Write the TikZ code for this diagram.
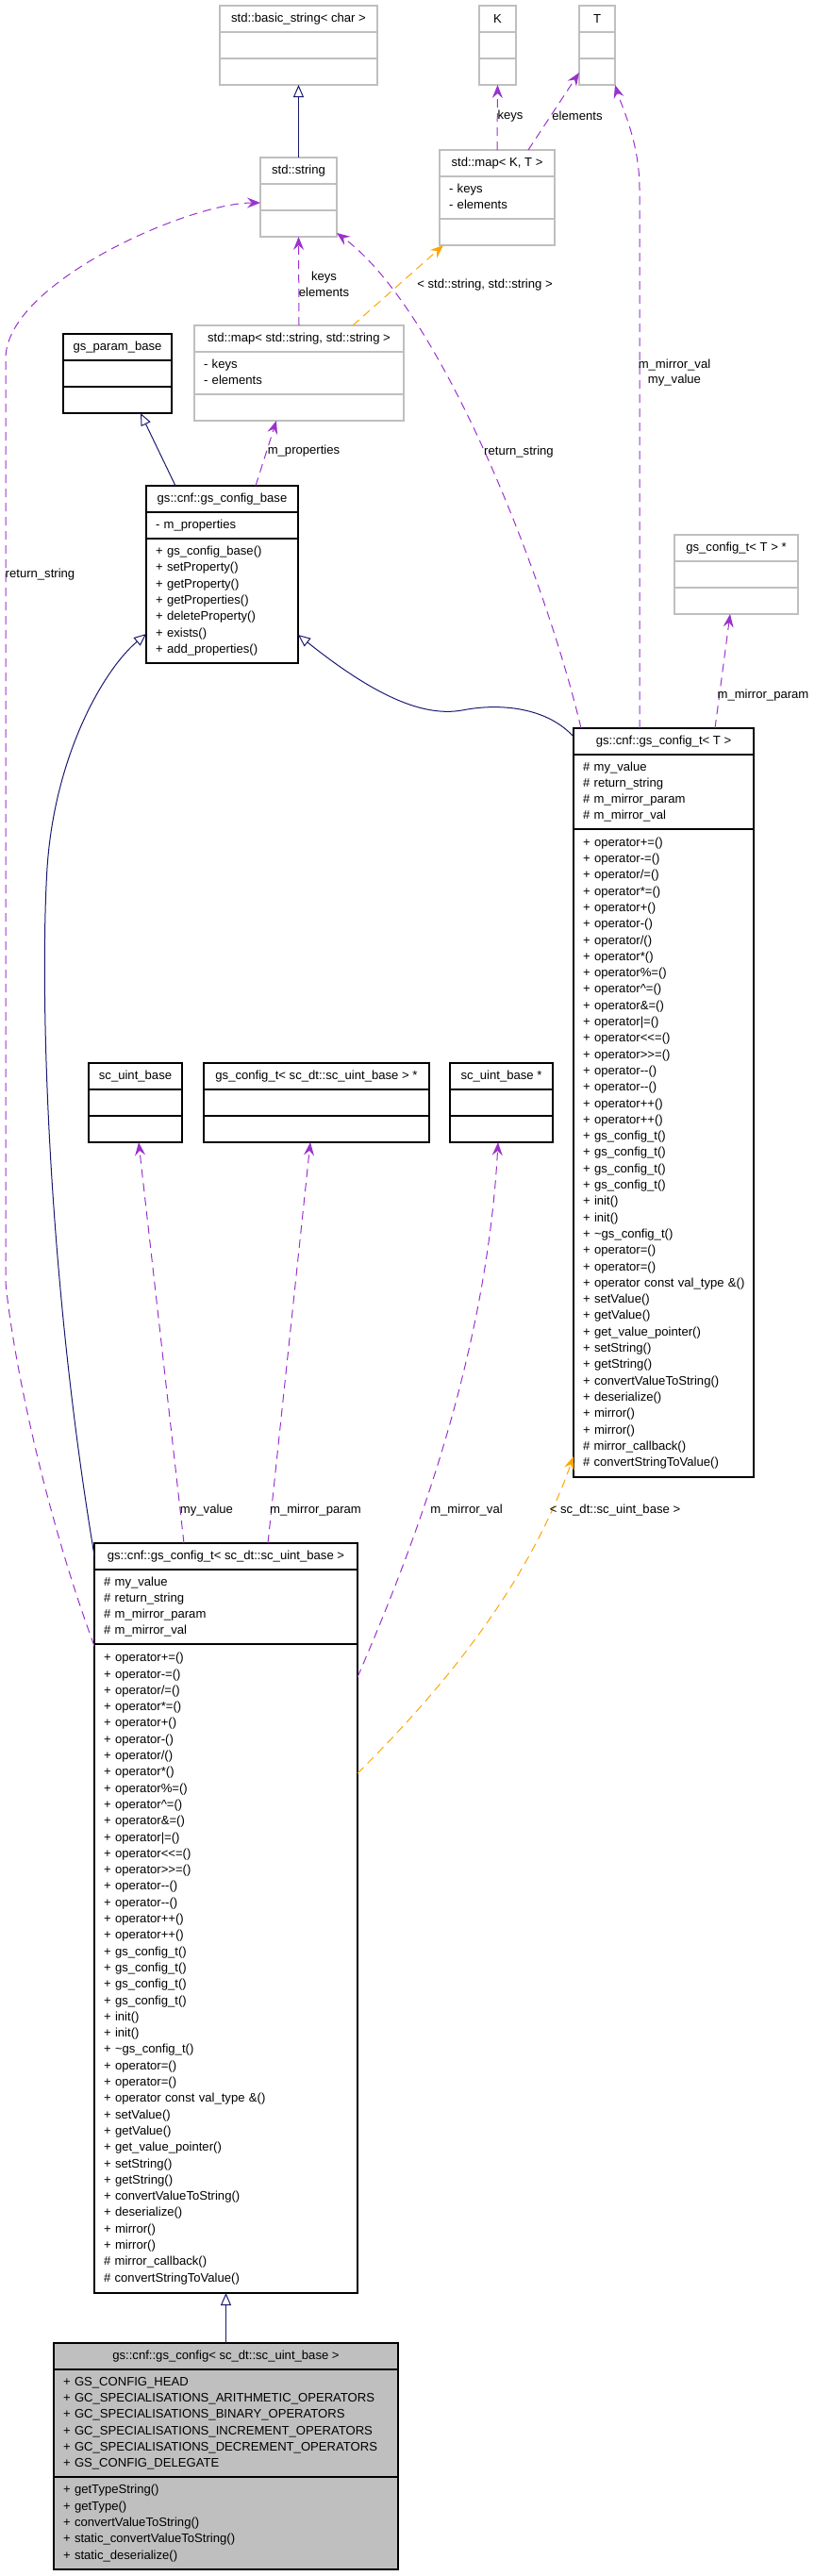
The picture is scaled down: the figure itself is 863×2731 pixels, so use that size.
\documentclass[tikz,border=0pt]{standalone}
\usepackage{fontspec}
\setmainfont{Liberation Sans}
\usetikzlibrary{positioning,fit,arrows.meta}

\definecolor{inhblue}{HTML}{191970}
\definecolor{usepurple}{HTML}{9A32CD}
\definecolor{tplorange}{HTML}{FFA500}
\definecolor{boxgrey}{HTML}{BFBFBF}

\newcommand{\members}[1]{\begin{tabular}{@{}l@{}}#1\end{tabular}}

\newcommand{\cfgattrs}{\# my\_value\\
\# return\_string\\
\# m\_mirror\_param\\
\# m\_mirror\_val}

\newcommand{\cfgops}{+ operator+=()\\
+ operator-=()\\
+ operator/=()\\
+ operator*=()\\
+ operator+()\\
+ operator-()\\
+ operator/()\\
+ operator*()\\
+ operator\%=()\\
+ operator\textasciicircum=()\\
+ operator\&=()\\
+ operator|=()\\
+ operator<{}<=()\\
+ operator>{}>=()\\
+ operator-{}-()\\
+ operator-{}-()\\
+ operator++()\\
+ operator++()\\
+ gs\_config\_t()\\
+ gs\_config\_t()\\
+ gs\_config\_t()\\
+ gs\_config\_t()\\
+ init()\\
+ init()\\
+ \textasciitilde gs\_config\_t()\\
+ operator=()\\
+ operator=()\\
+ operator const val\_type \&()\\
+ setValue()\\
+ getValue()\\
+ get\_value\_pointer()\\
+ setString()\\
+ getString()\\
+ convertValueToString()\\
+ deserialize()\\
+ mirror()\\
+ mirror()\\
\# mirror\_callback()\\
\# convertStringToValue()}

\tikzset{
  clstitle/.style={draw=black, line width=1.2pt, anchor=north west,
    inner xsep=4pt, inner ysep=0pt, outer sep=0pt, minimum height=28pt,
    font=\fontsize{13.1}{17.3}\selectfont},
  clssec/.style={draw=black, line width=1.2pt, align=left,
    inner xsep=10pt, inner ysep=0pt, outer sep=0pt, minimum height=28pt,
    font=\fontsize{13.1}{17.3}\selectfont},
  undoc/.style={draw=boxgrey},
  current/.style={fill=boxgrey},
  whole/.style={inner sep=0pt, outer sep=0pt},
  lbl/.style={inner sep=0pt, font=\fontsize{13.1}{16.5}\selectfont},
  inherit/.style={draw=inhblue, line width=1pt,
    -{Triangle[open, length=13pt, width=11pt]}},
  uses/.style={draw=usepurple, line width=1pt, dash pattern=on 9pt off 6pt,
    -{Stealth[length=14pt, width=11pt, inset=5pt]}},
  tplinst/.style={draw=tplorange, line width=1pt, dash pattern=on 9pt off 6pt,
    -{Stealth[length=14pt, width=11pt, inset=5pt]}}
}

\begin{document}
\begin{tikzpicture}[x=1pt, y=-1pt]

\useasboundingbox (0,0) rectangle (863,2731);

%std::basic_string
\node[clstitle, undoc, minimum width=167pt] (bstr1) at (233,6) {std::basic\_string< char >};
\node[clssec, undoc, minimum width=167pt, below=0pt of bstr1] (bstr2) {};
\node[clssec, undoc, minimum width=167pt, below=0pt of bstr2] (bstr3) {};
\node[fit=(bstr1)(bstr3), whole] (bstr) {};

%K
\node[clstitle, undoc, minimum width=39pt] (keyK1) at (508,6) {K};
\node[clssec, undoc, minimum width=39pt, below=0pt of keyK1] (keyK2) {};
\node[clssec, undoc, minimum width=39pt, below=0pt of keyK2] (keyK3) {};
\node[fit=(keyK1)(keyK3), whole] (keyK) {};

%T
\node[clstitle, undoc, minimum width=38pt] (valT1) at (614,6) {T};
\node[clssec, undoc, minimum width=38pt, below=0pt of valT1] (valT2) {};
\node[clssec, undoc, minimum width=38pt, below=0pt of valT2] (valT3) {};
\node[fit=(valT1)(valT3), whole] (valT) {};

%std::string
\node[clstitle, undoc, minimum width=81pt] (str1) at (276,167) {std::string};
\node[clssec, undoc, minimum width=81pt, below=0pt of str1] (str2) {};
\node[clssec, undoc, minimum width=81pt, below=0pt of str2] (str3) {};
\node[fit=(str1)(str3), whole] (str) {};

%std::map< K, T >
\node[clstitle, undoc, minimum width=122pt] (mapKT1) at (466,159) {std::map< K, T >};
\node[clssec, undoc, text width=102pt, minimum height=45pt, below=0pt of mapKT1] (mapKT2) {\members{- keys\\- elements}};
\node[clssec, undoc, minimum width=122pt, below=0pt of mapKT2] (mapKT3) {};
\node[fit=(mapKT1)(mapKT3), whole] (mapKT) {};

%std::map< std::string, std::string >
\node[clstitle, undoc, minimum width=222pt] (mapSS1) at (206,345) {std::map< std::string, std::string >};
\node[clssec, undoc, text width=202pt, minimum height=45pt, below=0pt of mapSS1] (mapSS2) {\members{- keys\\- elements}};
\node[clssec, undoc, minimum width=222pt, below=0pt of mapSS2] (mapSS3) {};
\node[fit=(mapSS1)(mapSS3), whole] (mapSS) {};

%gs_param_base
\node[clstitle, minimum width=115pt] (pbase1) at (67,354) {gs\_param\_base};
\node[clssec, minimum width=115pt, below=0pt of pbase1] (pbase2) {};
\node[clssec, minimum width=115pt, below=0pt of pbase2] (pbase3) {};
\node[fit=(pbase1)(pbase3), whole] (pbase) {};

%gs::cnf::gs_config_base
\node[clstitle, minimum width=161pt] (cbase1) at (155,515) {gs::cnf::gs\_config\_base};
\node[clssec, text width=141pt, below=0pt of cbase1] (cbase2) {\members{- m\_properties}};
\node[clssec, text width=141pt, minimum height=132pt, below=0pt of cbase2] (cbase3) {\members{+ gs\_config\_base()\\
+ setProperty()\\
+ getProperty()\\
+ getProperties()\\
+ deleteProperty()\\
+ exists()\\
+ add\_properties()}};
\node[fit=(cbase1)(cbase3), whole] (cbase) {};

%gs_config_t< T > *
\node[clstitle, undoc, minimum width=131pt] (tptr1) at (715,567) {gs\_config\_t< T > *};
\node[clssec, undoc, minimum width=131pt, below=0pt of tptr1] (tptr2) {};
\node[clssec, undoc, minimum width=131pt, below=0pt of tptr2] (tptr3) {};
\node[fit=(tptr1)(tptr3), whole] (tptr) {};

%gs::cnf::gs_config_t< T >
\node[clstitle, minimum width=191pt] (cfgT1) at (608,772) {gs::cnf::gs\_config\_t< T >};
\node[clssec, text width=171pt, minimum height=79pt, below=0pt of cfgT1] (cfgT2) {\members{\cfgattrs}};
\node[clssec, text width=171pt, minimum height=687pt, below=0pt of cfgT2] (cfgT3) {\members{\cfgops}};
\node[fit=(cfgT1)(cfgT3), whole] (cfgT) {};

%sc_uint_base
\node[clstitle, minimum width=99pt] (uint1) at (94,1127) {sc\_uint\_base};
\node[clssec, minimum width=99pt, below=0pt of uint1] (uint2) {};
\node[clssec, minimum width=99pt, below=0pt of uint2] (uint3) {};
\node[fit=(uint1)(uint3), whole] (uint) {};

%gs_config_t< sc_dt::sc_uint_base > *
\node[clstitle, minimum width=239pt] (cptr1) at (216,1127) {gs\_config\_t< sc\_dt::sc\_uint\_base > *};
\node[clssec, minimum width=239pt, below=0pt of cptr1] (cptr2) {};
\node[clssec, minimum width=239pt, below=0pt of cptr2] (cptr3) {};
\node[fit=(cptr1)(cptr3), whole] (cptr) {};

%sc_uint_base *
\node[clstitle, minimum width=109pt] (uptr1) at (477,1127) {sc\_uint\_base *};
\node[clssec, minimum width=109pt, below=0pt of uptr1] (uptr2) {};
\node[clssec, minimum width=109pt, below=0pt of uptr2] (uptr3) {};
\node[fit=(uptr1)(uptr3), whole] (uptr) {};

%gs::cnf::gs_config_t< sc_dt::sc_uint_base >
\node[clstitle, minimum width=279pt] (cfgU1) at (100,1636) {gs::cnf::gs\_config\_t< sc\_dt::sc\_uint\_base >};
\node[clssec, text width=259pt, minimum height=79pt, below=0pt of cfgU1] (cfgU2) {\members{\cfgattrs}};
\node[clssec, text width=259pt, minimum height=688pt, below=0pt of cfgU2] (cfgU3) {\members{\cfgops}};
\node[fit=(cfgU1)(cfgU3), whole] (cfgU) {};

%gs::cnf::gs_config< sc_dt::sc_uint_base >
\node[clstitle, current, minimum width=365pt] (cfg1) at (57,2484) {gs::cnf::gs\_config< sc\_dt::sc\_uint\_base >};
\node[clssec, current, text width=345pt, minimum height=114pt, below=0pt of cfg1] (cfg2) {\members{+ GS\_CONFIG\_HEAD\\
+ GC\_SPECIALISATIONS\_ARITHMETIC\_OPERATORS\\
+ GC\_SPECIALISATIONS\_BINARY\_OPERATORS\\
+ GC\_SPECIALISATIONS\_INCREMENT\_OPERATORS\\
+ GC\_SPECIALISATIONS\_DECREMENT\_OPERATORS\\
+ GS\_CONFIG\_DELEGATE}};
\node[clssec, current, text width=345pt, minimum height=98pt, below=0pt of cfg2] (cfg3) {\members{+ getTypeString()\\
+ getType()\\
+ convertValueToString()\\
+ static\_convertValueToString()\\
+ static\_deserialize()}};
\node[fit=(cfg1)(cfg3), whole] (cfg) {};

%inheritance
\draw[inherit] (str.north) -- (bstr.south);
\draw[inherit] ([xshift=31pt]cbase.north west) -- ([xshift=82pt]pbase.south west);
\draw[inherit] ([yshift=-9pt]cfgT.north west) .. controls (580,750) and (530,745) .. (490,753)
  .. controls (450,760) and (400,740) .. ([yshift=30pt]cbase.south east);
\draw[inherit] ([yshift=-13pt]cfgU.north west) .. controls (50,1350) and (42,1050) .. (50,920)
  .. controls (58,800) and (110,710) .. ([yshift=31pt]cbase.south west);
\draw[inherit] (cfg.north) -- (cfgU.south);

%usage
\draw[uses] (mapKT.north) -- (keyK.south);
\draw[uses] ([xshift=94pt]mapKT.north west) -- ([yshift=13pt]valT.south west);
\draw[uses] ([xshift=70pt]cfgT.north west) -- (678,200) .. controls (678,150) and (658,110) .. (valT.south east);
\draw[uses] (mapSS.north) -- (str.south);
\draw[uses] ([xshift=8pt]cfgT.north west) .. controls (580,620) and (470,330) .. ([yshift=4pt]str.south east);
\draw[uses] ([xshift=116pt]cbase.north west) -- ([xshift=87pt]mapSS.south west);
\draw[uses] ([yshift=-109pt]cfgU.north west) .. controls (50,1610) and (15,1450) .. (6,1360)
  -- (6,380) .. controls (6,300) and (200,215) .. ([yshift=-48pt]str.north west);
\draw[uses] ([xshift=150pt]cfgT.north west) -- ([xshift=59pt]tptr.south west);
\draw[uses] ([xshift=95pt]cfgU.north west) -- ([xshift=53pt]uint.south west);
\draw[uses] ([xshift=184pt]cfgU.north west) -- ([xshift=113pt]cptr.south west);
\draw[uses] ([yshift=-142pt]cfgU.north east) .. controls (430,1660) and (515,1450) .. ([xshift=51pt]uptr.south west);

%template instances
\draw[tplinst] ([xshift=168pt]mapSS.north west) -- ([xshift=4pt]mapKT.south west);
\draw[tplinst] ([yshift=-244pt]cfgU.north east) .. controls (470,1790) and (560,1680) .. ([yshift=22pt]cfgT.south west);

%labels
\node[lbl] (lkeysK) at (541,123) {keys};
\node[lbl] (lelemT) at (612,123) {elements};
\node[lbl, align=center] (lmirT) at (715,395) {m\_mirror\_val\\my\_value};
\node[lbl, align=center] (lkeysS) at (343.5,301.5) {keys\\elements};
\node[lbl] (lstrstr) at (514,302) {< std::string, std::string >};
\node[lbl] (lretR) at (550,479) {return\_string};
\node[lbl] (lprop) at (322,478) {m\_properties};
\node[lbl] (lretL) at (42.5,609) {return\_string};
\node[lbl] (lparamT) at (809,737) {m\_mirror\_param};
\node[lbl] (lvalU) at (219,1601) {my\_value};
\node[lbl] (lparamU) at (334.5,1601) {m\_mirror\_param};
\node[lbl] (lmirU) at (494.5,1601) {m\_mirror\_val};
\node[lbl] (luint) at (652,1601) {< sc\_dt::sc\_uint\_base >};

\end{tikzpicture}
\end{document}
